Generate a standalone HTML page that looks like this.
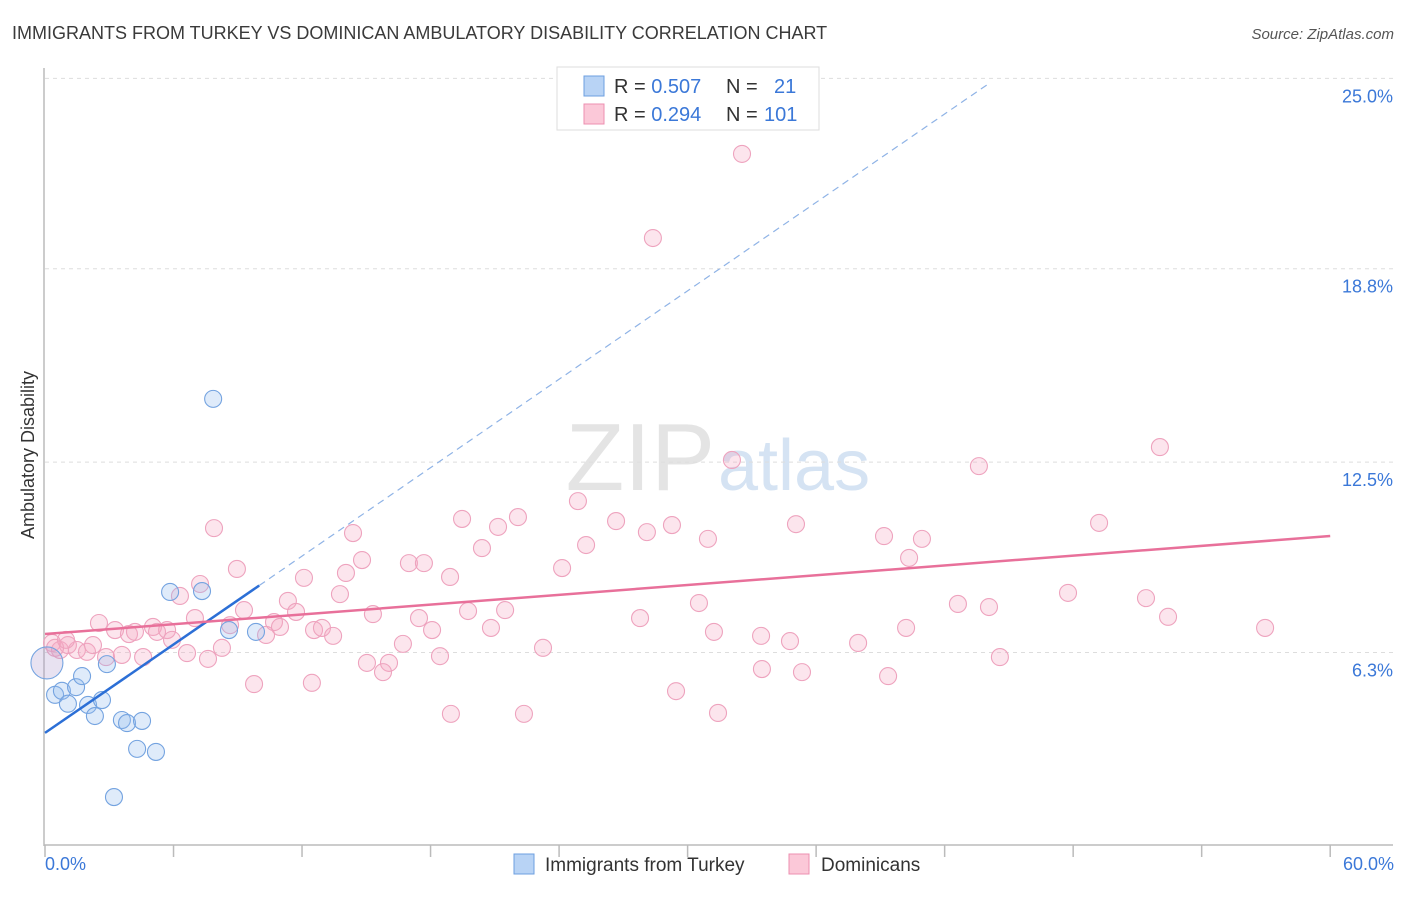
<!DOCTYPE html>
<html><head><meta charset="utf-8"><style>
body{margin:0;background:#fff;font-family:"Liberation Sans",sans-serif;}
svg text{font-family:"Liberation Sans",sans-serif;}
</style></head><body>
<svg width="1406" height="892" viewBox="0 0 1406 892">
<text x="12" y="39" font-size="18" fill="#3a3a3a">IMMIGRANTS FROM TURKEY VS DOMINICAN AMBULATORY DISABILITY CORRELATION CHART</text>
<text x="1394" y="39" font-size="15" fill="#555" text-anchor="end" font-style="italic">Source: ZipAtlas.com</text>
<text x="715" y="490" font-size="96" fill="#e4e4e4" text-anchor="end" font-family="Liberation Serif">ZIP</text>
<text x="718" y="490" font-size="72" fill="#d5e3f3">atlas</text>
<g id="grid"></g>
<line x1="44" y1="68" x2="44" y2="846" stroke="#bbb" stroke-width="1.5"/>
<line x1="44" y1="845" x2="1393" y2="845" stroke="#bbb" stroke-width="1.5"/>
<g id="xticks"></g>
<text x="34" y="455" font-size="18" fill="#333" text-anchor="middle" transform="rotate(-90 34 455)">Ambulatory Disability</text>
<g id="pinkpts"></g><g id="bluepts"></g><g id="lines"></g>
<g>
<rect x="557" y="67" width="262" height="63" fill="#fff" stroke="#ddd"/>
<rect x="584" y="76" width="20" height="20" fill="#b8d3f5" stroke="#6d9fe0"/>
<rect x="584" y="104" width="20" height="20" fill="#fbc8d8" stroke="#ec8fb0"/>
<text x="614" y="93" font-size="20" fill="#333">R = <tspan fill="#3b78d8">0.507</tspan><tspan x="726">N = </tspan><tspan x="774" fill="#3b78d8">21</tspan></text>
<text x="614" y="121" font-size="20" fill="#333">R = <tspan fill="#3b78d8">0.294</tspan><tspan x="726">N = </tspan><tspan x="764" fill="#3b78d8">101</tspan></text>
</g>
<g>
<rect x="514" y="854" width="20" height="20" fill="#b8d3f5" stroke="#6d9fe0"/>
<text x="545" y="871" font-size="19" fill="#333">Immigrants from Turkey</text>
<rect x="789" y="854" width="20" height="20" fill="#fbc8d8" stroke="#ec8fb0"/>
<text x="821" y="871" font-size="19" fill="#333">Dominicans</text>
</g>
<text x="45" y="870" font-size="18" fill="#3b78d8">0.0%</text>
<text x="1394" y="870" font-size="18" fill="#3b78d8" text-anchor="end">60.0%</text>
</svg>
<script>
const yTicks=[6.3,12.5,18.8,25.0];
const yTickLabels=["6.3%","12.5%","18.8%","25.0%"];
const blueX=[0.09,0.47,0.79,1.07,1.45,1.73,2.01,2.33,2.66,2.89,3.59,3.83,4.30,4.53,5.18,3.22,5.84,7.33,7.85,8.59,9.85];
const blueY=[5.96,4.92,5.05,4.63,5.17,5.53,4.59,4.23,4.75,5.92,4.10,4.00,3.16,4.07,3.06,1.59,8.27,8.30,14.56,7.03,6.97];
const pinkPx=[[742,154],[653,238],[1160,447],[979,466],[732,460],[578,501],[462,519],[518,517],[498,527],[616,521],[672,525],[647,532],[796,524],[1099,523],[214,528],[353,533],[884,536],[922,539],[708,539],[586,545],[482,548],[909,558],[362,560],[237,569],[409,563],[424,563],[562,568],[450,577],[346,573],[304,578],[200,584],[180,596],[340,594],[288,601],[1068,593],[1146,598],[699,603],[958,604],[989,607],[468,611],[505,610],[244,610],[373,614],[296,612],[419,618],[195,618],[640,618],[1168,617],[99,623],[115,630],[129,634],[135,632],[153,627],[157,632],[167,630],[172,640],[230,625],[274,622],[280,627],[314,630],[322,628],[333,636],[432,630],[491,628],[714,632],[906,628],[1265,628],[761,636],[790,641],[858,643],[52,643],[60,650],[68,645],[77,650],[87,652],[93,645],[106,657],[122,655],[143,657],[187,653],[208,659],[222,648],[266,635],[403,644],[543,648],[440,656],[1000,657],[367,663],[389,663],[383,672],[762,669],[802,672],[888,676],[254,684],[312,683],[676,691],[451,714],[524,714],[718,713],[55,648],[66,640]];
const pinkX=pinkPx.map(p=>+((p[0]-45)/21.42).toFixed(2));
const pinkY=pinkPx.map(p=>+(6.25+(654-p[1])/30.7).toFixed(2));
const blueLine=[3.68,0.48];
const blueSolidEnd=10.0, blueDashEnd=44.0;
const pinkLine=[6.90,0.0532];
const NS="http://www.w3.org/2000/svg";
const xs=v=>45+v*21.42;
const ys=v=>654-(v-6.25)*30.7;
function mk(tag,attrs,parent){const e=document.createElementNS(NS,tag);for(const k in attrs)e.setAttribute(k,attrs[k]);document.getElementById(parent).appendChild(e);return e;}
yTicks.forEach((t,i)=>{
 const l=mk('line',{x1:45,x2:1393,y1:ys(t),y2:ys(t),stroke:'#ddd','stroke-dasharray':'4,4'},'grid');
 
 
 const tx=mk('text',{x:1393,y:ys(t)+24,'font-size':18,fill:'#3b78d8','text-anchor':'end'},'grid');
 tx.textContent=yTickLabels[i];
 
 
});
for(let i=0;i<=10;i++){
 const l=mk('line',{x1:xs(i*6),x2:xs(i*6),y1:845,y2:857,stroke:'#bbb','stroke-width':1.5},'xticks');
 
 
}
pinkX.forEach((x,i)=>{
 const c=mk('circle',{cx:xs(x),cy:ys(pinkY[i]),r:8.5,fill:'rgba(246,170,195,0.3)',stroke:'#eea3be','stroke-width':1.1},'pinkpts');
 
 
});
blueX.forEach((x,i)=>{
 const c=mk('circle',{cx:xs(x),cy:ys(blueY[i]),r:i==0?16:8.5,fill:i==0?'rgba(180,160,210,0.3)':'rgba(150,190,238,0.3)',stroke:'#74a3e0','stroke-width':1.1},'bluepts');
 
 
});
let l=mk('line',{x1:xs(0),y1:ys(blueLine[0]),x2:xs(blueSolidEnd),y2:ys(blueLine[0]+blueLine[1]*blueSolidEnd),stroke:'#2c6fd6','stroke-width':2.5},'lines');


l=mk('line',{x1:xs(blueSolidEnd),y1:ys(blueLine[0]+blueLine[1]*blueSolidEnd),x2:xs(blueDashEnd),y2:ys(blueLine[0]+blueLine[1]*blueDashEnd),stroke:'#8fb3e6','stroke-width':1.2,'stroke-dasharray':'7,5'},'lines');


l=mk('line',{x1:xs(0),y1:ys(pinkLine[0]),x2:xs(60),y2:ys(pinkLine[0]+pinkLine[1]*60),stroke:'#e8709a','stroke-width':2.5},'lines');


</script>
</body></html>
